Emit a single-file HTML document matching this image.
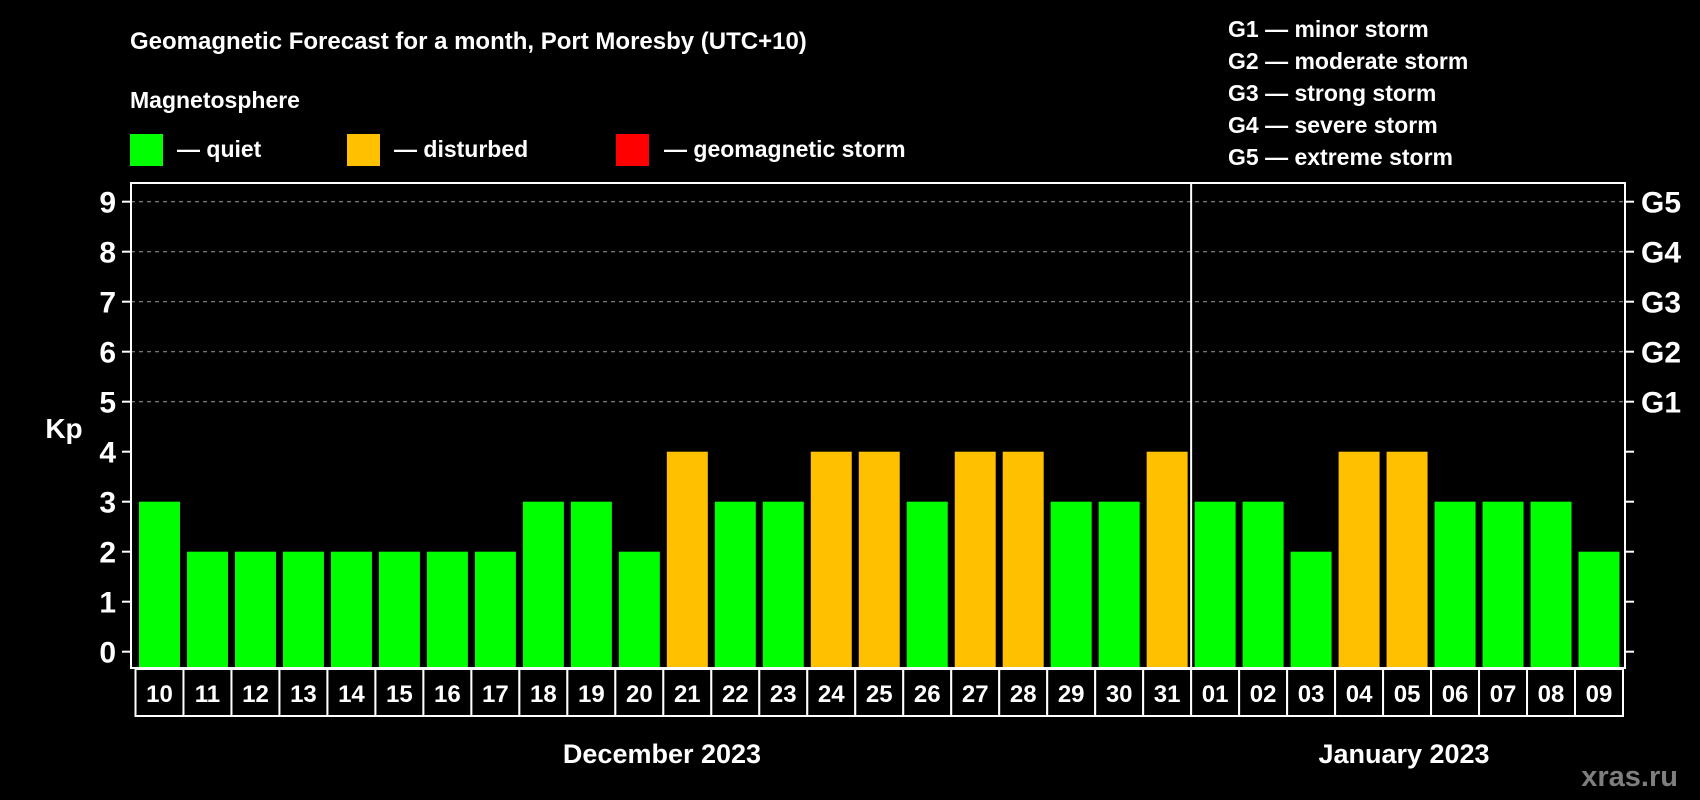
<!DOCTYPE html>
<html><head><meta charset="utf-8"><style>
html,body{margin:0;padding:0;background:#000;}
svg{display:block;font-family:"Liberation Sans",Arial,sans-serif;font-weight:bold;}
</style></head><body>
<svg id="chart" width="1700" height="800" viewBox="0 0 1700 800" xmlns="http://www.w3.org/2000/svg">
<rect width="1700" height="800" fill="#000"/>
<text x="130" y="49" fill="#fff" font-size="24">Geomagnetic Forecast for a month, Port Moresby (UTC+10)</text>
<text x="130" y="108" fill="#fff" font-size="23">Magnetosphere</text>
<rect x="130" y="134" width="33" height="32" fill="#00ff00"/>
<text x="177" y="157" fill="#fff" font-size="23">— quiet</text>
<rect x="347" y="134" width="33" height="32" fill="#ffc000"/>
<text x="394" y="157" fill="#fff" font-size="23">— disturbed</text>
<rect x="616" y="134" width="33" height="32" fill="#ff0000"/>
<text x="664" y="157" fill="#fff" font-size="23">— geomagnetic storm</text>
<g fill="#fff" font-size="23">
<text x="1228" y="37">G1 — minor storm</text>
<text x="1228" y="69">G2 — moderate storm</text>
<text x="1228" y="101">G3 — strong storm</text>
<text x="1228" y="133">G4 — severe storm</text>
<text x="1228" y="165">G5 — extreme storm</text>
</g>
<text x="64" y="438" fill="#fff" font-size="28" text-anchor="middle">Kp</text>
<text x="662" y="763" fill="#fff" font-size="27" text-anchor="middle">December 2023</text>
<text x="1404" y="763" fill="#fff" font-size="27" text-anchor="middle">January 2023</text>
<text x="1678" y="786" fill="#7f7f7f" font-size="29" text-anchor="end">xras.ru</text>
<g id="plot"></g>
</svg>
<script>
const days = ["10","11","12","13","14","15","16","17","18","19","20","21","22","23","24","25","26","27","28","29","30","31","01","02","03","04","05","06","07","08","09"];
const kpValues = [3,2,2,2,2,2,2,2,3,3,2,4,3,3,4,4,3,4,4,3,3,4,3,3,2,4,4,3,3,3,2];
const yTicks = [0,1,2,3,4,5,6,7,8,9];
const gLabels = ["G1","G2","G3","G4","G5"];
const gLevels = [5,6,7,8,9];
const monthBreakIndex = 22;

const NS="http://www.w3.org/2000/svg";
const g=document.getElementById('plot');
const L=131,R=1625,T=183,B=668;
const slot0=135.5,pitch=(1623-135.5)/days.length;
function y(v){return 651.7-v*50;}
function xs(i){return slot0+i*pitch;}
function mk(tag,attrs){const e=document.createElementNS(NS,tag);for(const k in attrs)e.setAttribute(k,attrs[k]);g.appendChild(e);return e;}

gLevels.forEach(v=>{
  const l=mk('line',{x1:L,x2:R,y1:y(v),y2:y(v),stroke:'#999','stroke-width':1,'stroke-dasharray':'4,4'});
  
  
});
kpValues.forEach((v,i)=>{
  const r=mk('rect',{x:xs(i)+3.5,y:y(v),width:pitch-7,height:B-y(v),fill:v>=5?'#ff0000':(v>=4?'#ffc000':'#00ff00')});
  
  
});
const fr=mk('rect',{x:L,y:T,width:R-L,height:B-T,fill:'none',stroke:'#fff','stroke-width':2});


const dv=mk('line',{x1:xs(monthBreakIndex),x2:xs(monthBreakIndex),y1:T,y2:B,stroke:'#fff','stroke-width':2});


yTicks.forEach(v=>{
  const t1=mk('line',{x1:122,x2:L,y1:y(v),y2:y(v),stroke:'#fff','stroke-width':2});
  
  
  const t2=mk('line',{x1:R,x2:1634,y1:y(v),y2:y(v),stroke:'#fff','stroke-width':2});
  
  
  const tx=mk('text',{x:116,y:y(v)+11,fill:'#fff','font-size':30,'text-anchor':'end'});
  tx.textContent=v;
  
  
});
gLevels.forEach((v,i)=>{
  const tx=mk('text',{x:1641,y:y(v)+11,fill:'#fff','font-size':30});
  tx.textContent=gLabels[i];
  
  
});
days.forEach((d,i)=>{
  const b=mk('rect',{x:xs(i),y:B+1,width:pitch,height:47,fill:'#000',stroke:'#fff','stroke-width':2});
  
  
  const tx=mk('text',{x:xs(i)+pitch/2,y:B+34,fill:'#fff','font-size':24,'text-anchor':'middle'});
  tx.textContent=d;
  
  
});
</script>
</body></html>
